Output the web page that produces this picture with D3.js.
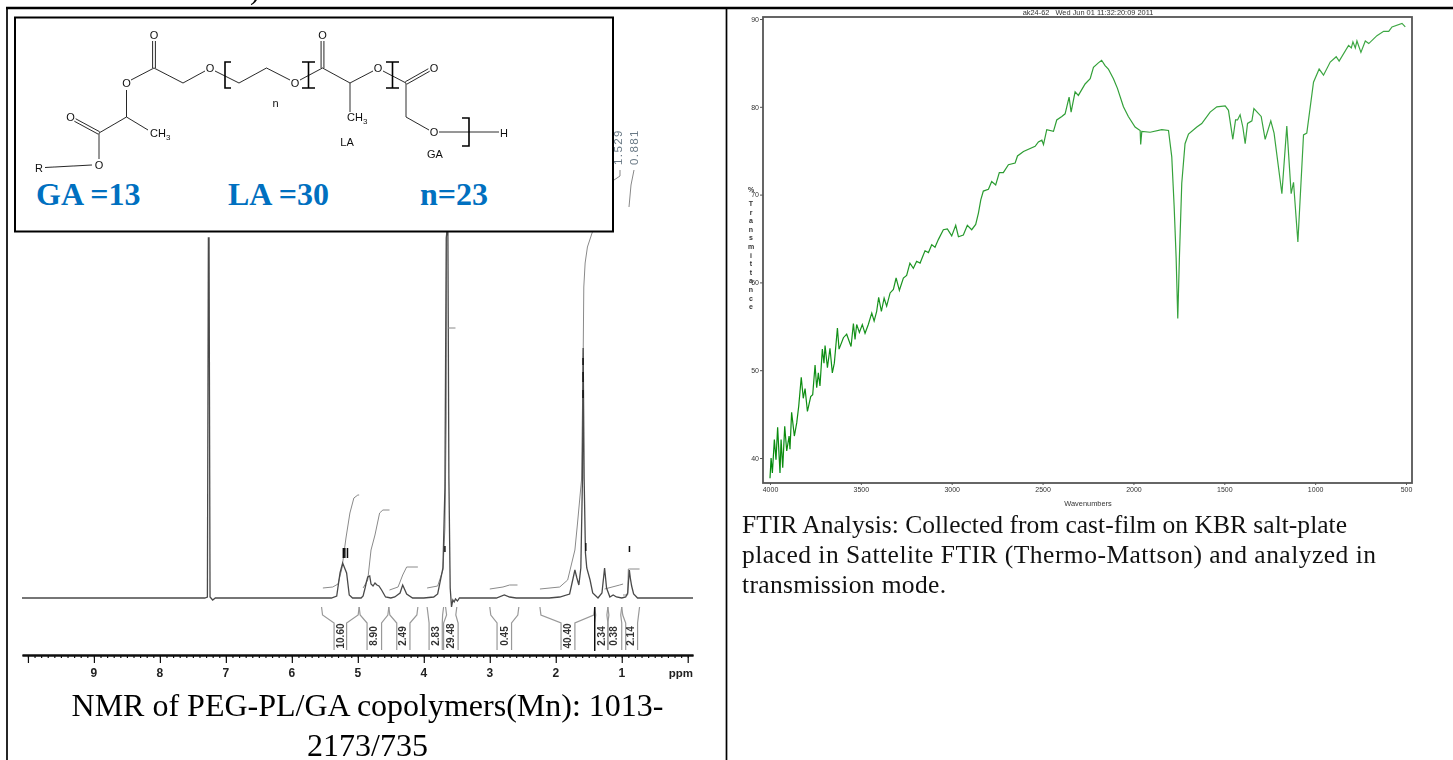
<!DOCTYPE html>
<html>
<head>
<meta charset="utf-8">
<script src="https://cdn.jsdelivr.net/npm/d3@7"></script>
<style>
  html, body { margin: 0; padding: 0; background: #fff; overflow: hidden; }
  svg { display: block; }
  .sans { font-family: "Liberation Sans", Arial, sans-serif; }
  .serif { font-family: "Liberation Serif", "Times New Roman", serif; }
</style>
</head>
<body>
<div id="chart"></div>
<script>
// NMR spectrum (ppm against signal height)
const nmrPpm = [10.09, 7.32, 7.28, 7.265, 7.255, 7.24, 7.2, 7.16, 7.1, 5.4, 5.32, 5.27, 5.23, 5.2, 5.17, 5.13, 5.08, 4.95, 4.92, 4.89, 4.87, 4.85, 4.82, 4.8, 4.77, 4.74, 4.71, 4.68, 4.64, 4.58, 4.5, 4.44, 4.36, 4.32, 4.26, 4.17, 4.0, 3.85, 3.79, 3.71, 3.68, 3.66, 3.65, 3.635, 3.62, 3.6, 3.58, 3.56, 3.54, 3.52, 3.49, 3.46, 3.4, 2.9, 2.78, 2.7, 2.6, 2.1, 1.94, 1.79, 1.71, 1.68, 1.65, 1.62, 1.595, 1.585, 1.57, 1.55, 1.53, 1.48, 1.44, 1.36, 1.3, 1.26, 1.23, 1.18, 1.13, 1.08, 1.0, 0.94, 0.91, 0.885, 0.87, 0.85, 0.82, 0.76, 0.6, -0.08];
const nmrSignal = [0, 0, 1, 360, 360, 1, -2, 0, 0, 0, 2, 25, 35, 30, 25, 3, 0, 0, 2, 10, 16, 21, 22, 14, 12, 15, 13, 12, 8, 1, 0, 1, 5, 13, 4, 0, 0, 1, 4, 30, 110, 360, 366, 366, 120, 10, -9, -2, -4, -1, -3, 0, 0, 0, 3, 1, 0, 0, 1, 4, 28, 20, 13, 30, 120, 250, 120, 45, 30, 18, 5, 0, 5, 30, 10, 1, 3, 1, 0, 1, 5, 28, 20, 12, 4, 0, 0, 0];

// integral curves
const integralPpm = [
  [5.53, 5.38, 5.3, 5.24, 5.18, 5.12, 5.06, 5.0, 4.98],
  [4.92, 4.85, 4.8, 4.74, 4.67, 4.62, 4.52],
  [4.52, 4.39, 4.32, 4.26, 4.09],
  [3.95, 3.79, 3.71, 3.68, 3.66, 3.655],
  [3.0, 2.8, 2.7, 2.58],
  [2.24, 1.94, 1.82, 1.71, 1.67, 1.61, 1.585, 1.575, 1.555, 1.52, 1.45, 1.4],
  [1.26, 1.03, 0.98],
  [0.98, 0.96, 0.91, 0.9, 0.88, 0.73]
];
const integralHeight = [
  [10, 11, 14, 30, 60, 85, 100, 103, 103],
  [10, 18, 48, 63, 85, 88, 88],
  [8, 11, 23, 31, 31],
  [10, 12, 28, 70, 180, 366],
  [9, 11, 13, 13],
  [9, 11, 18, 48, 75, 118, 240, 311, 335, 351, 365, 375],
  [9, 13, 14],
  [3, 3, 3, 29, 29, 29]
];

// integration brackets: outer ends and inner stems in ppm
const bracketLabels = ["10.60", "8.90", "2.49", "2.83", "29.48", "0.45", "40.40", "2.34", "0.38", "2.14"];
const bracketOuterL = [5.55, 4.98, 4.53, 3.95, 3.67, 3.0, 2.24, 1.41, 1.21, 1.0];
const bracketOuterR = [4.98, 4.53, 4.09, 3.7, 3.5, 2.56, 1.41, 1.21, 1.0, 0.73];
const bracketInnerL = [5.36, 4.86, 4.41, 3.92, 3.7, 2.89, 1.92, 1.41, 1.21, 0.94];
const bracketInnerR = [5.17, 4.64, 4.21, 3.72, 3.48, 2.67, 1.71, 1.21, 1.0, 0.76];
const bracketTextPpm = [5.27, 4.76, 4.32, 3.82, 3.59, 2.77, 1.82, 1.3, 1.13, 0.86];

// dark peak-pick dashes: ppm, low and high signal
const markPpm = [5.22, 5.197, 5.157, 3.68, 1.545, 0.883, 1.586, 1.586, 1.586];
const markLow = [40, 40, 40, 46, 47, 46, 233, 216, 200];
const markHigh = [50, 50, 50, 52, 55, 52, 240, 226, 208];

const ppmLabels = [9, 8, 7, 6, 5, 4, 3, 2, 1];

// FTIR trace
const ftirWavenumber = [4000, 3994, 3987, 3976, 3967, 3958, 3945, 3939, 3930, 3919, 3908, 3895, 3890, 3881, 3866, 3853, 3842, 3828, 3817, 3807, 3794, 3776, 3765, 3752, 3743, 3734, 3725, 3712, 3703, 3697, 3684, 3670, 3657, 3646, 3629, 3620, 3596, 3578, 3554, 3541, 3532, 3523, 3508, 3492, 3477, 3459, 3440, 3427, 3413, 3402, 3387, 3372, 3358, 3339, 3321, 3306, 3288, 3266, 3248, 3230, 3211, 3193, 3174, 3147, 3128, 3110, 3092, 3073, 3046, 3024, 3000, 2978, 2963, 2936, 2914, 2890, 2868, 2853, 2840, 2826, 2798, 2780, 2758, 2738, 2716, 2688, 2651, 2638, 2605, 2541, 2523, 2504, 2495, 2477, 2440, 2422, 2394, 2376, 2354, 2343, 2321, 2303, 2266, 2238, 2220, 2193, 2175, 2156, 2138, 2110, 2088, 2055, 2028, 1991, 1963, 1960, 1954, 1908, 1844, 1807, 1789, 1776, 1765, 1756, 1747, 1734, 1716, 1697, 1651, 1624, 1578, 1541, 1495, 1477, 1453, 1438, 1427, 1413, 1398, 1385, 1372, 1348, 1337, 1297, 1275, 1244, 1226, 1183, 1156, 1132, 1119, 1095, 1064, 1046, 1009, 978, 954, 917, 884, 868, 816, 801, 792, 779, 770, 748, 724, 705, 660, 623, 595, 577, 522, 504];
const ftirTransmittance = [37.7, 40, 38.3, 42.1, 39.8, 43.5, 38.3, 42.1, 38.9, 43.6, 40.8, 42.5, 41, 45.2, 42.5, 44, 45.9, 49.2, 46.8, 47.9, 45.3, 47, 47.2, 50.6, 48, 49.7, 48.2, 52.4, 50.8, 52.8, 50.3, 52.5, 49.7, 50.8, 54.8, 52.4, 53.7, 54.1, 52.7, 55.3, 53.5, 55.2, 54.3, 55.2, 54.2, 55.2, 56.5, 55.6, 56.7, 58.3, 56.7, 58.2, 57.3, 58.8, 59.2, 60.5, 59.1, 60.5, 60.8, 62.2, 61.6, 62.4, 62.2, 63.6, 63.4, 64.3, 64, 64.9, 66, 66.1, 65.3, 66.5, 65.2, 65.4, 66.5, 66, 66.6, 67.9, 69.4, 70.4, 70.6, 71.5, 71.1, 72.5, 72.5, 73.4, 73.6, 74.4, 74.9, 75.5, 76, 76.2, 75.7, 77.4, 77.2, 78.5, 78.9, 79.2, 81.1, 79.4, 81.7, 81.3, 82.6, 83.2, 84.5, 85, 85.3, 84.7, 84.3, 83.2, 82.1, 80, 78.9, 77.7, 77.3, 75.7, 77.2, 77.1, 77.4, 77.3, 74.3, 68.7, 62.8, 55.9, 62.8, 71.3, 75.8, 76.9, 77.7, 78.1, 79.4, 80, 80.1, 79.6, 76.3, 78.5, 78.5, 79.1, 77.7, 75.8, 78.1, 78.4, 79.8, 78.9, 76.3, 78.4, 77, 70.1, 77.8, 70.1, 71.4, 64.6, 76.8, 77, 82.8, 84.3, 83.6, 85.1, 85.7, 85.2, 87, 86.7, 87.4, 86.7, 87.5, 86.2, 87.5, 87.2, 88.1, 88.6, 88.6, 89.1, 89.5, 89.1];

const ftirXTicks = [4000, 3500, 3000, 2500, 2000, 1500, 1000, 500];
const ftirYTicks = [40, 50, 60, 70, 80, 90];
const ftirYTitle = ["%", "T", "r", "a", "n", "s", "m", "i", "t", "t", "a", "n", "c", "e"];

const svg = d3.select("#chart").append("svg").attr("width", 1453).attr("height", 760);

const defs = svg.append("defs");
defs.append("filter").attr("id", "soft").append("feGaussianBlur").attr("stdDeviation", 0.45);
defs.append("filter").attr("id", "softer").append("feGaussianBlur").attr("stdDeviation", 0.3);

// trace is dark at the noisy end and paler further right
const irGradient = defs.append("linearGradient").attr("id", "irStroke")
  .attr("gradientUnits", "userSpaceOnUse")
  .attr("x1", 770).attr("x2", 1406).attr("y1", 0).attr("y2", 0);
irGradient.append("stop").attr("offset", 0).attr("stop-color", "#068a0c");
irGradient.append("stop").attr("offset", 0.35).attr("stop-color", "#2c9c32");
irGradient.append("stop").attr("offset", 1).attr("stop-color", "#3fa845");

// ---------- NMR panel ----------
const x = d3.scaleLinear().domain([10.09, -0.08]).range([22, 693]);
const y = d3.scaleLinear().domain([0, 366]).range([598, 232]);
const spectrumLine = d3.line().x(d => x(d[0])).y(d => y(d[1]));

const nmr = svg.append("g").attr("filter", "url(#soft)");

integralPpm.forEach(function (ppms, k) {
  nmr.append("path")
    .attr("d", spectrumLine(ppms.map((p, i) => [p, integralHeight[k][i]])))
    .attr("fill", "none")
    .attr("stroke", "#8a8a8a")
    .attr("stroke-width", 1);
});

nmr.append("path")
  .attr("d", spectrumLine(nmrPpm.map((p, i) => [p, nmrSignal[i]])))
  .attr("fill", "none")
  .attr("stroke", "#4a4a4a")
  .attr("stroke-width", 1.3);

// small stub next to the big 3.65 peak
nmr.append("line")
  .attr("x1", x(3.63)).attr("x2", x(3.52))
  .attr("y1", 328).attr("y2", 328)
  .attr("stroke", "#888");

nmr.selectAll(".mark")
  .data(markPpm)
  .join("line")
  .attr("class", "mark")
  .attr("x1", d => x(d)).attr("x2", d => x(d))
  .attr("y1", (d, i) => y(markLow[i]))
  .attr("y2", (d, i) => y(markHigh[i]))
  .attr("stroke", "#111")
  .attr("stroke-width", 1.5);

// integration brackets
const bracket = nmr.selectAll(".bracket").data(bracketLabels).join("g").attr("class", "bracket");
bracket.append("path")
  .attr("d", function (d, i) {
    const outerL = x(bracketOuterL[i]), innerL = x(bracketInnerL[i]);
    return `M${outerL},607 L${outerL + 1},615 L${innerL},623 L${innerL},650`;
  })
  .attr("fill", "none").attr("stroke", "#999").attr("stroke-width", 1.2);
bracket.append("path")
  .attr("d", function (d, i) {
    const outerR = x(bracketOuterR[i]), innerR = x(bracketInnerR[i]);
    return `M${outerR},607 L${outerR - 1},615 L${innerR},623 L${innerR},650`;
  })
  .attr("fill", "none").attr("stroke", "#999").attr("stroke-width", 1.2);
bracket.append("text")
  .attr("class", "sans")
  .attr("transform", (d, i) => `translate(${x(bracketTextPpm[i]) + 3.5},636) rotate(-90)`)
  .attr("text-anchor", "middle")
  .attr("font-size", 10)
  .attr("font-weight", "bold")
  .attr("fill", "#333")
  .text(d => d);

// the black bar between 40.40 and 2.34
nmr.append("line")
  .attr("x1", x(1.41)).attr("x2", x(1.41))
  .attr("y1", 607).attr("y2", 651)
  .attr("stroke", "#111").attr("stroke-width", 1.4);

// ppm axis
const minorAxis = d3.axisBottom(x).tickValues(d3.range(0, 101).map(d => d / 10)).tickSize(3).tickSizeOuter(0).tickFormat("");
const majorAxis = d3.axisBottom(x).tickValues(d3.range(0, 11)).tickSize(8).tickSizeOuter(0).tickFormat("");
const axisG = nmr.append("g").attr("transform", "translate(0,655)");
axisG.call(minorAxis);
axisG.append("g").call(majorAxis);
axisG.selectAll(".domain").attr("stroke", "#111").attr("stroke-width", 1.8);
axisG.selectAll("line").attr("stroke", "#111").attr("stroke-width", 1.2);

nmr.selectAll(".ppmLabel")
  .data(ppmLabels)
  .join("text")
  .attr("class", "sans ppmLabel")
  .attr("x", d => x(d))
  .attr("y", 677)
  .attr("text-anchor", "middle")
  .attr("font-size", 12)
  .attr("font-weight", "bold")
  .attr("fill", "#222")
  .text(d => d);
nmr.append("text")
  .attr("class", "sans")
  .attr("x", 693).attr("y", 677)
  .attr("text-anchor", "end")
  .attr("font-size", 11.5).attr("font-weight", "bold").attr("fill", "#222")
  .text("ppm");

// peak labels that stick out beside the inset
const peakLabels = [["1.529", 622], ["0.881", 638]];
nmr.selectAll(".peakLabel")
  .data(peakLabels)
  .join("text")
  .attr("class", "sans peakLabel")
  .attr("transform", d => `translate(${d[1]},165) rotate(-90)`)
  .attr("font-size", 11.5)
  .attr("letter-spacing", 1.4)
  .attr("fill", "#6a7a86")
  .text(d => d[0]);
const leaders = [[[620, 170], [620, 176], [614, 180]], [[634, 170], [631, 185], [629, 207]]];
leaders.forEach(function (pts) {
  nmr.append("path").attr("d", d3.line()(pts)).attr("fill", "none").attr("stroke", "#888");
});

// inset with the structure
svg.append("rect")
  .attr("x", 15).attr("y", 17.5).attr("width", 598).attr("height", 214)
  .attr("fill", "#fff").attr("stroke", "#000").attr("stroke-width", 2);

const bonds = [
  [45, 167.5, 92, 165], [99, 159, 99, 133], [99, 133, 126.5, 117], [126.5, 117, 126.5, 90],
  [126.5, 117, 148, 130], [131, 80, 154, 68], [154, 68, 183, 83], [183, 83, 205, 71],
  [215, 71, 239, 83], [239, 83, 266.5, 68], [266.5, 68, 290, 80], [300, 80, 322.5, 68],
  [322.5, 68, 350, 83], [350, 83, 373, 71], [350, 83, 350, 112], [383, 71, 406, 83],
  [406, 83, 406, 117], [406, 117, 429, 130], [439, 132, 499, 132]
];
const doubleBonds = [[154, 68, 154, 41], [322.5, 68, 322.5, 41], [406, 83, 429, 70], [99, 133, 75, 120]];
const atoms = [
  ["O", 154, 35], ["O", 126.5, 83], ["O", 210, 68], ["O", 295, 83], ["O", 322.5, 35], ["O", 378, 68],
  ["O", 434, 68], ["O", 434, 132], ["H", 504, 133], ["O", 70.6, 117], ["O", 99, 165], ["R", 39, 168],
  ["n", 275.5, 103], ["LA", 347, 142], ["GA", 435, 154]
];
const mol = svg.append("g").attr("filter", "url(#softer)");
mol.selectAll(".bond").data(bonds).join("line").attr("class", "bond")
  .attr("x1", d => d[0]).attr("y1", d => d[1]).attr("x2", d => d[2]).attr("y2", d => d[3])
  .attr("stroke", "#111").attr("stroke-width", 0.9);
doubleBonds.forEach(function (b) {
  const dx = b[2] - b[0], dy = b[3] - b[1], len = Math.hypot(dx, dy);
  [-1.4, 1.4].forEach(function (o) {
    mol.append("line")
      .attr("x1", b[0] - dy / len * o).attr("y1", b[1] + dx / len * o)
      .attr("x2", b[2] - dy / len * o).attr("y2", b[3] + dx / len * o)
      .attr("stroke", "#111").attr("stroke-width", 0.9);
  });
});
mol.selectAll(".atom").data(atoms).join("text").attr("class", "sans atom")
  .attr("x", d => d[1]).attr("y", d => d[2] + 4)
  .attr("text-anchor", "middle").attr("font-size", 11).attr("fill", "#111")
  .text(d => d[0]);
// CH3 groups with a lowered 3
[[150, 137], [347, 121]].forEach(function (p) {
  const t = mol.append("text").attr("class", "sans").attr("x", p[0]).attr("y", p[1])
    .attr("font-size", 11).attr("fill", "#111").text("CH");
  t.append("tspan").attr("dy", 2.5).attr("font-size", 8).text("3");
});
// repeat-unit brackets
const repeatBrackets = [
  "M231,62 H225 V88 H231",
  "M302,62 H315 M302,88 H315 M308.5,62 V88",
  "M386,62 H399 M386,88 H399 M392.5,62 V88",
  "M462,118 H469 V146 H462"
];
mol.selectAll(".repeat").data(repeatBrackets).join("path").attr("class", "repeat")
  .attr("d", d => d).attr("fill", "none").attr("stroke", "#000").attr("stroke-width", 1.6);

const counts = [["GA =13", 36], ["LA =30", 228], ["n=23", 420]];
svg.selectAll(".count").data(counts).join("text").attr("class", "serif count")
  .attr("x", d => d[1]).attr("y", 205)
  .attr("font-size", 32).attr("font-weight", "bold").attr("fill", "#0070c0")
  .text(d => d[0]);

// ---------- FTIR panel ----------
const xIr = d3.scaleLinear().domain([4000, 500]).range([770, 1406]);
const yIr = d3.scaleLinear().domain([90, 40]).range([19, 458]);
const ftir = svg.append("g").attr("filter", "url(#soft)");

ftir.append("rect")
  .attr("x", 763).attr("y", 17).attr("width", 649).attr("height", 466)
  .attr("fill", "none").attr("stroke", "#555").attr("stroke-width", 1.8);

ftir.append("path")
  .datum(ftirWavenumber.map((w, i) => [w, ftirTransmittance[i]]))
  .attr("d", d3.line().x(d => xIr(d[0])).y(d => yIr(d[1])))
  .attr("fill", "none")
  .attr("stroke", "url(#irStroke)")
  .attr("stroke-width", 1.2);

const xAxisIr = ftir.append("g").attr("transform", "translate(0,483)")
  .call(d3.axisBottom(xIr).tickValues(ftirXTicks).tickSize(2).tickPadding(2).tickFormat(d3.format("d")));
const yAxisIr = ftir.append("g").attr("transform", "translate(763,0)")
  .call(d3.axisLeft(yIr).tickValues(ftirYTicks).tickSize(3).tickPadding(1));
[xAxisIr, yAxisIr].forEach(function (g) {
  g.select(".domain").remove();
  g.selectAll("line").attr("stroke", "#555");
  g.selectAll("text").attr("class", "sans").attr("font-size", 7).attr("fill", "#333");
});

ftir.append("text").attr("class", "sans")
  .attr("x", 1088).attr("y", 15).attr("text-anchor", "middle")
  .attr("font-size", 7.4).attr("fill", "#333").attr("xml:space", "preserve")
  .text("ak24-62   Wed Jun 01 11:32:20:09 2011");
ftir.append("text").attr("class", "sans")
  .attr("x", 1088).attr("y", 506).attr("text-anchor", "middle")
  .attr("font-size", 7.4).attr("fill", "#333")
  .text("Wavenumbers");
ftir.selectAll(".yLetter").data(ftirYTitle).join("text").attr("class", "sans yLetter")
  .attr("x", 751)
  .attr("y", (d, i) => 192 + (i === 0 ? 0 : 14 + (i - 1) * 8.6))
  .attr("text-anchor", "middle")
  .attr("font-size", 7).attr("font-weight", "bold").attr("fill", "#333")
  .text(d => d);

// ---------- page frame and captions ----------
const frame = [[6, 8, 1453, 8], [7, 8, 7, 760], [726.5, 8, 726.5, 760]];
svg.selectAll(".frame").data(frame).join("line").attr("class", "frame")
  .attr("x1", d => d[0]).attr("y1", d => d[1]).attr("x2", d => d[2]).attr("y2", d => d[3])
  .attr("stroke", "#000").attr("stroke-width", (d, i) => i === 0 ? 2.4 : 1.7);

// end of a line from the page above, only its bottom edge is left
svg.append("text").attr("class", "serif")
  .attr("x", 250).attr("y", -1).attr("font-size", 30).attr("fill", "#000").text(")");

const nmrCaption = ["NMR of PEG-PL/GA copolymers(Mn): 1013-", "2173/735"];
svg.selectAll(".nmrCap").data(nmrCaption).join("text").attr("class", "serif nmrCap")
  .attr("x", 367.5).attr("y", (d, i) => 716 + i * 40)
  .attr("text-anchor", "middle").attr("font-size", 32).attr("fill", "#000")
  .text(d => d);

const ftirCaption = [
  "FTIR Analysis: Collected from cast-film on KBR salt-plate",
  "placed in Sattelite FTIR (Thermo-Mattson) and analyzed in",
  "transmission mode."
];
const ftirCaptionWidth = [605, 634, 204];
svg.selectAll(".irCap").data(ftirCaption).join("text").attr("class", "serif irCap")
  .attr("x", 742).attr("y", (d, i) => 533 + i * 30)
  .attr("font-size", 25.5).attr("fill", "#111")
  .attr("textLength", (d, i) => ftirCaptionWidth[i])
  .attr("lengthAdjust", "spacing")
  .text(d => d);
</script>
</body>
</html>
